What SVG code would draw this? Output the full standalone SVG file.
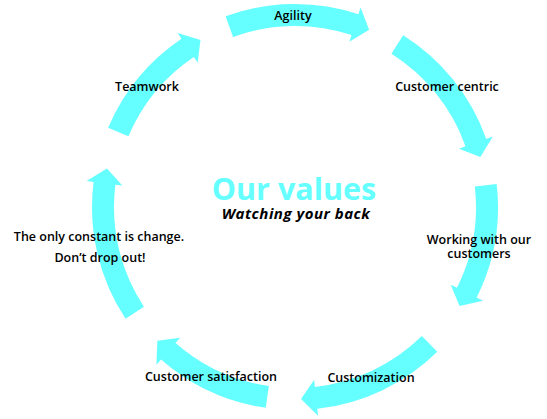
<svg xmlns="http://www.w3.org/2000/svg" width="547" height="419" viewBox="0 0 547 419">
<style>
.arr{fill:#66FFFF}
.lbl{font-family:"Open Sans","Liberation Sans",sans-serif;font-weight:600;font-size:12.5px;fill:#000;text-anchor:middle}
.title{font-family:"Open Sans","Liberation Sans",sans-serif;font-weight:700;font-size:30.5px;fill:#66FFFF;text-anchor:middle}
.sub{font-family:"Open Sans","Liberation Sans",sans-serif;font-weight:700;font-style:italic;font-size:15px;letter-spacing:0.5px;fill:#000;text-anchor:middle}
</style>
<defs>
<path id="arrowA" d="M 0,-203 A 203 203 0 0 1 125.54,-159.53 L 129.87,-165.03 L 130.21,-141.10 L 107.60,-136.74 L 111.93,-142.24 A 181 181 0 0 0 0,-181 Z"/>
<path id="arrowB" d="M 0,-203 A 203 203 0 0 1 131.84,-154.36 L 136.38,-159.69 L 135.76,-135.76 L 113.00,-132.31 L 117.55,-137.63 A 181 181 0 0 0 0,-181 Z"/>
<path id="arrowC" d="M 0,-203 A 203 203 0 0 1 110.56,-170.25 L 114.37,-176.12 L 116.88,-152.32 L 94.77,-145.93 L 98.58,-151.80 A 181 181 0 0 0 0,-181 Z"/>
</defs>
<g id="connectors" class="arr">
<use href="#arrowA" transform="translate(295,207) rotate(-20)"/>
<use href="#arrowA" transform="translate(295,207) rotate(32.2)"/>
<use href="#arrowC" transform="translate(295,207) rotate(83.5)"/>
<use href="#arrowA" transform="translate(295,207) rotate(135.5)"/>
<use href="#arrowC" transform="translate(295,207) rotate(188.3)"/>
<use href="#arrowB" transform="translate(295,207) rotate(236.6)"/>
<use href="#arrowC" transform="translate(295,207) rotate(293)"/>
</g>
<g id="center">
<text class="title" x="294" y="200">Our values</text>
<text class="sub" x="296" y="219">Watching your back</text>
</g>
<g id="agility"><text class="lbl" x="293" y="20">Agility</text></g>
<g id="customer-centric"><text class="lbl" x="447" y="91">Customer centric</text></g>
<g id="working"><text class="lbl" x="479" y="244">Working with our</text><text class="lbl" x="479" y="258">customers</text></g>
<g id="customization"><text class="lbl" x="371" y="382">Customization</text></g>
<g id="satisfaction"><text class="lbl" x="211" y="381">Customer satisfaction</text></g>
<g id="constant"><text class="lbl" x="99" y="241">The only constant is change.</text><text class="lbl" x="100" y="262">Don’t drop out!</text></g>
<g id="teamwork"><text class="lbl" x="147" y="91">Teamwork</text></g>
</svg>
